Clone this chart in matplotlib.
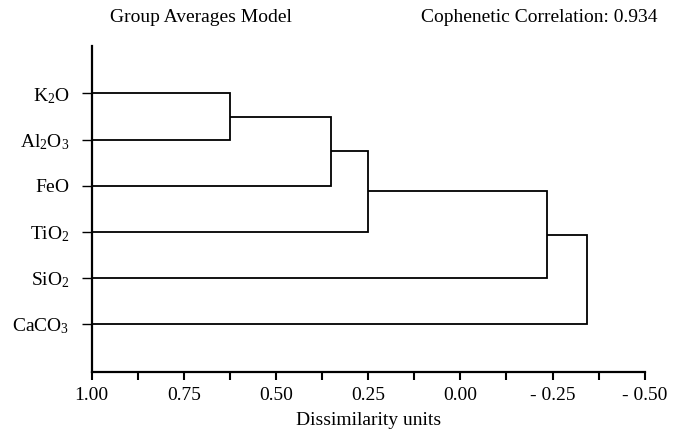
import matplotlib
matplotlib.use("Agg")
import matplotlib.pyplot as plt

plt.rcParams["font.family"] = "Liberation Serif"
plt.rcParams["mathtext.fontset"] = "custom"
plt.rcParams["mathtext.rm"] = "Liberation Serif"
plt.rcParams["mathtext.it"] = "Liberation Serif:italic"

# Leaves, top to bottom
leaf_labels = [r"$\mathrm{K_2O}$", r"$\mathrm{Al_2O_3}$", r"$\mathrm{FeO}$",
               r"$\mathrm{TiO_2}$", r"$\mathrm{SiO_2}$", r"$\mathrm{CaCO_3}$"]

# Linkage: node ids 0..5 are leaves, new clusters get ids 6, 7, ...
join_left = [0, 6, 7, 8, 9]
join_right = [1, 2, 3, 4, 5]
join_level = [0.625, 0.35, 0.25, -0.236, -0.343]

leaf_level = 1.0
x_ticks = [1.0, 0.75, 0.5, 0.25, 0.0, -0.25, -0.5]
x_tick_labels = ["1.00", "0.75", "0.50", "0.25", "0.00", "- 0.25", "- 0.50"]
x_minor = [0.875, 0.625, 0.375, 0.125, -0.125, -0.375]

fig = plt.figure(figsize=(6.78, 4.34), dpi=100)
ax = fig.add_axes([0.1352, 0.1435, 0.9509 - 0.1352, 0.894 - 0.1435])

n = len(leaf_labels)
node_y = [float(n - i) for i in range(n)]
node_x = [leaf_level] * n

# each join drawn as one bracket so the corners stay clean
for a, b, lev in zip(join_left, join_right, join_level):
    ya, yb = node_y[a], node_y[b]
    ax.plot([node_x[a], lev, lev, node_x[b]], [ya, ya, yb, yb],
            color="black", lw=1.3, solid_joinstyle="miter", solid_capstyle="butt")
    node_y.append((ya + yb) / 2)
    node_x.append(lev)

ax.set_xlim(1.0, -0.5)
ax.set_ylim(-0.035, 7.03)

ax.set_xticks(x_ticks)
ax.set_xticklabels(x_tick_labels)
ax.set_xticks(x_minor, minor=True)
ax.tick_params(axis="x", which="both", direction="out", length=6, width=1.5,
               labelsize=14, pad=5)

ax.set_yticks(node_y[:n])
ax.set_yticklabels(leaf_labels)
ax.tick_params(axis="y", direction="out", length=7, width=1.0, labelsize=14, pad=9)

for side in ["top", "right"]:
    ax.spines[side].set_visible(False)
for side in ["left", "bottom"]:
    ax.spines[side].set_linewidth(1.6)

ax.set_xlabel("Dissimilarity units", fontsize=14, labelpad=6)

fig.text(200.8 / 678, 1 - 18 / 434, "Group Averages Model", fontsize=14,
         ha="center", va="center")
fig.text(539 / 678, 1 - 18 / 434, "Cophenetic Correlation: 0.934", fontsize=14,
         ha="center", va="center")

fig.savefig("out.png", dpi=100)
